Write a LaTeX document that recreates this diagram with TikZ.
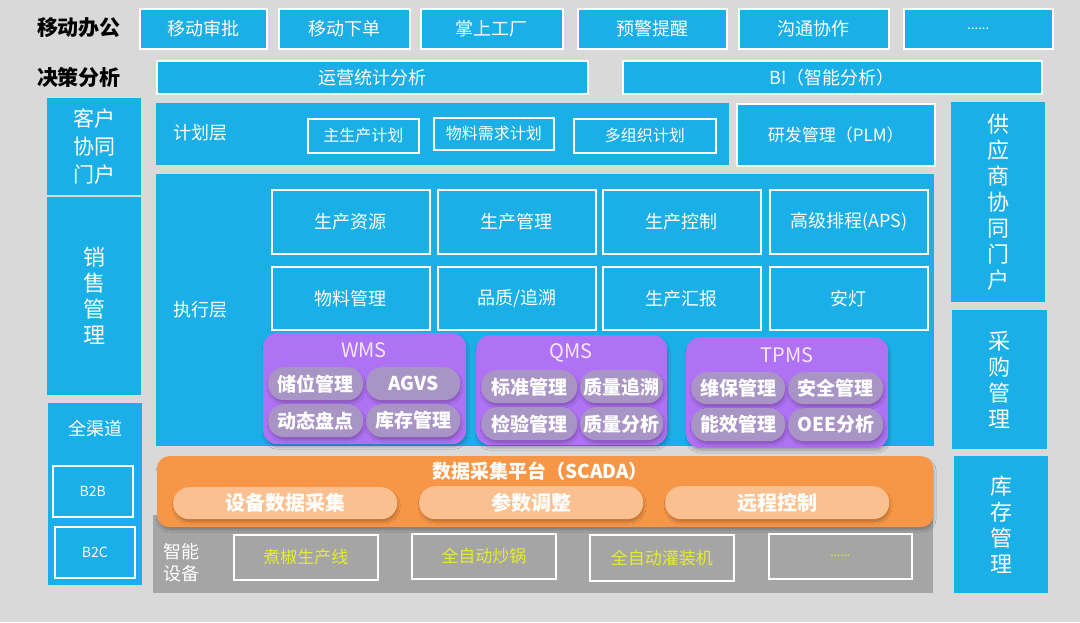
\documentclass[tikz,border=0pt]{standalone}
\usepackage{fontspec}
\setmainfont{Noto Sans CJK SC}
\usepackage{xcolor}
\usepackage{tikz}
\usetikzlibrary{shadows.blur}
\usetikzlibrary{positioning}

\definecolor{bgray}{HTML}{D9D9DA}
\definecolor{skyb}{HTML}{1AAFE6}
\definecolor{mpurple}{HTML}{B072F4}
\definecolor{ppill}{HTML}{A895C6}
\definecolor{orng}{HTML}{F79646}
\definecolor{opeach}{HTML}{FBC08F}
\definecolor{dgray}{HTML}{A5A5A5}
\definecolor{devyel}{HTML}{E5EE2E}
\definecolor{ttlpink}{HTML}{F5E8FF}

\newcommand{\fsz}[2]{\fontsize{#1}{#2}\selectfont}

\begin{document}
\begin{tikzpicture}[x=1pt, y=-1pt,
  blk/.style={fill=skyb, text=white, inner sep=0pt, anchor=north west, font=\fsz{18}{22}},
  wbox/.style={blk, draw=white, line width=1.6pt},
  wh/.style 2 args={minimum width=#1pt, minimum height=#2pt},
  head/.style={font=\bfseries\fsz{21}{24}, text=black},
  lyr/.style={text=white, font=\fsz{18}{22}},
  vcol/.style={blk, align=center, font=\fsz{22}{26}},
  shd/.style={blur shadow={shadow xshift=1pt, shadow yshift=-3pt, shadow blur radius=2pt, shadow blur steps=4, shadow opacity=22}},
  grp/.style={fill=mpurple, rounded corners=14pt, anchor=north west, inner sep=0pt, shd},
  gttl/.style={text=ttlpink, font=\fsz{20}{22}},
  pill/.style={fill=ppill, text=white, rounded corners=16pt, anchor=north west, inner sep=0pt, font=\bfseries\fsz{19}{22}, shd},
  opill/.style={pill, fill=opeach, font=\bfseries\fsz{20}{22}},
  dev/.style={draw=white, line width=1.6pt, text=devyel, anchor=north west, inner sep=0pt, font=\fsz{17}{20}}]
\fill[bgray] (0,0) rectangle (1080,622);
\useasboundingbox (0,0) rectangle (1080,622);

% mobile office row
\node[head] (mobi) at (79,28) {移动办公};
\node[wbox, wh={127}{40}] (sp) at (139,8) {移动审批};
\node[wbox, wh={131}{40}] (xd) at (278,8) {移动下单};
\node[wbox, wh={142}{40}] (gc) at (420,8) {掌上工厂};
\node[wbox, wh={149}{40}] (yj) at (577,8) {预警提醒};
\node[wbox, wh={150}{40}] (gt) at (738,8) {沟通协作};
\node[wbox, wh={149}{40}, font=\fsz{13}{16}] (more) at (903,8) {......};

% decision row
\node[head] (jc) at (79,77) {决策分析};
\node[wbox, wh={431}{33}] (yy) at (156,60) {运营统计分析};
\node[wbox, wh={419}{33}] (bi) at (622,60) {BI（智能分析）};

% planning layer
\node[blk, wh={573}{62}] (jh) at (156,103) {};
\node[lyr] (jhl) at (200,133) {计划层};
\node[wbox, wh={111}{34}, font=\fsz{16}{20}] (zsc) at (307,118) {主生产计划};
\node[wbox, wh={120}{32}, font=\fsz{16}{20}] (wlxq) at (433,117) {物料需求计划};
\node[wbox, wh={142}{34}, font=\fsz{16}{20}] (dzz) at (573,118) {多组织计划};
\node[wbox, wh={198}{62}, font=\fsz{17}{20}] (plm) at (736,103) {研发管理（PLM）};

% left column
\node[vcol, wh={94}{97}, font=\fsz{21}{28}] (kh) at (47,98) {客户\\协同\\门户};
\node[vcol, wh={94}{198}] (xs) at (47,197) {销\\售\\管\\理};
\node[blk, wh={94}{182}] (qqd) at (48,403) {};
\node[lyr] (qqdl) at (95,429) {全渠道};
\node[wbox, wh={80}{51}, font=\fsz{14}{16}] (b2b) at (52,465) {B2B};
\node[wbox, wh={80}{51}, font=\fsz{14}{16}] (b2c) at (54,526) {B2C};

% right column
\node[vcol, wh={94}{200}] (gys) at (951,102) {供\\应\\商\\协\\同\\门\\户};
\node[vcol, wh={95}{139}] (cg) at (952,310) {采\\购\\管\\理};
\node[vcol, wh={94}{137}] (kc) at (954,456) {库\\存\\管\\理};

% execution layer
\node[blk, wh={778}{272}] (zx) at (156,174) {};
\node[lyr] (zxl) at (200,310) {执行层};
\node[wbox, wh={158}{64}] (sczy) at (271,189) {生产资源};
\node[wbox, wh={158}{64}] (scgl) at (437,189) {生产管理};
\node[wbox, wh={158}{64}] (sckz) at (602,189) {生产控制};
\node[wbox, wh={158}{64}] (aps) at (769,189) {高级排程(APS)};
\node[wbox, wh={158}{63}] (wlgl) at (271,266) {物料管理};
\node[wbox, wh={158}{63}] (pz) at (437,266) {品质/追溯};
\node[wbox, wh={158}{63}] (schb) at (602,266) {生产汇报};
\node[wbox, wh={158}{63}] (ad) at (769,266) {安灯};

% WMS / QMS / TPMS
\node[grp, wh={203}{111}] (wms) at (263,333) {};
\node[gttl] (wmst) at (364,350) {WMS};
\node[pill, wh={95}{33}] (cw) at (268,367) {储位管理};
\node[pill, wh={94}{33}] (agv) at (366,367) {AGVS};
\node[pill, wh={95}{33}] (dt) at (268,404) {动态盘点};
\node[pill, wh={94}{33}] (kcgl) at (366,404) {库存管理};

\node[grp, wh={191}{110}] (qms) at (476,335) {};
\node[gttl] (qmst) at (571,353) {QMS};
\node[pill, wh={96}{33}] (bz) at (481,370) {标准管理};
\node[pill, wh={83}{33}] (zlzs) at (580,370) {质量追溯};
\node[pill, wh={96}{33}] (jy) at (481,407) {检验管理};
\node[pill, wh={83}{33}] (zlfx) at (580,407) {质量分析};

\node[grp, wh={202}{111}] (tpms) at (686,337) {};
\node[gttl] (tpmst) at (787,355) {TPMS};
\node[pill, wh={94}{32}] (wb) at (691,372) {维保管理};
\node[pill, wh={95}{32}] (aq) at (788,372) {安全管理};
\node[pill, wh={94}{33}] (nx) at (691,408) {能效管理};
\node[pill, wh={95}{33}] (oee) at (788,408) {OEE分析};

% devices and SCADA
\node[fill=dgray, anchor=north west, inner sep=0pt, wh={780}{78}] (znsb) at (153,515) {};
\node[text=white, align=left, font=\fsz{18}{22}] (znsbl) at (181,563) {智能\\设备};
\node[dev, wh={144}{45}] (zj) at (233,534) {煮椒生产线};
\node[dev, wh={144}{45}] (cgu) at (411,533) {全自动炒锅};
\node[dev, wh={144}{46}] (gz) at (589,534) {全自动灌装机};
\node[dev, wh={143}{45}, font=\fsz{12}{14}] (dmore) at (768,533) {......};

\node[fill=orng, rounded corners=12pt, anchor=north west, inner sep=0pt, wh={776}{71}, shd] (scada) at (157,456) {};
\node[text=white, font=\bfseries\fsz{19}{22}] (scadal) at (540,471) {数据采集平台（SCADA）};
\node[opill, wh={224}{32}] (sbsj) at (173,487) {设备数据采集};
\node[opill, wh={224}{33}] (cstz) at (419,486) {参数调整};
\node[opill, wh={224}{33}] (yckz) at (665,486) {远程控制};
\end{tikzpicture}
\end{document}
